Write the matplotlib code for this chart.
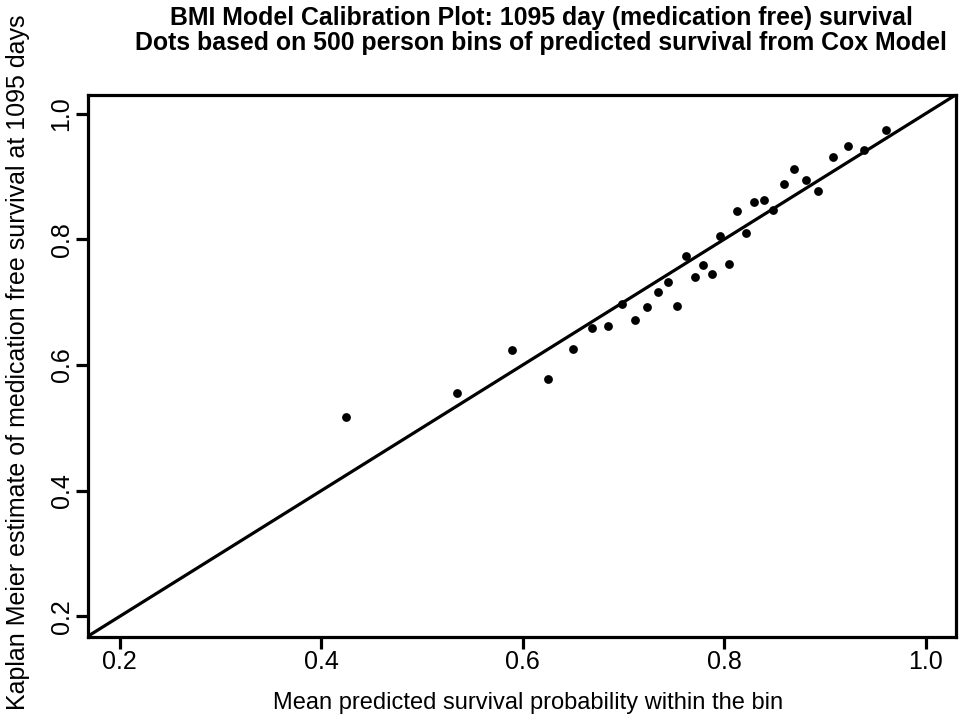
import matplotlib
matplotlib.use("Agg")
import matplotlib.pyplot as plt

plt.rcParams['font.family'] = ['Liberation Sans', 'DejaVu Sans']

pred = [0.4250, 0.5346, 0.5889, 0.6247, 0.6502, 0.6683, 0.6846, 0.6984,
        0.7116, 0.7236, 0.7339, 0.7438, 0.7533, 0.7622, 0.7707, 0.7793,
        0.7874, 0.7959, 0.8044, 0.8129, 0.8217, 0.8299, 0.8391, 0.8483,
        0.8590, 0.8696, 0.8810, 0.8930, 0.9076, 0.9228, 0.9388, 0.9604]
km = [0.5176, 0.5549, 0.6239, 0.5772, 0.6260, 0.6590, 0.6622, 0.6967,
      0.6712, 0.6920, 0.7163, 0.7327, 0.6945, 0.7732, 0.7402, 0.7594,
      0.7450, 0.8056, 0.7614, 0.8443, 0.8099, 0.8593, 0.8625, 0.8459,
      0.8880, 0.9124, 0.8948, 0.8768, 0.9310, 0.9479, 0.9422, 0.9734]
ticks = [0.2, 0.4, 0.6, 0.8, 1.0]
tick_labels = ["0.2", "0.4", "0.6", "0.8", "1.0"]

title_lines = ["BMI Model Calibration Plot: 1095 day (medication free) survival",
               "Dots based on 500 person bins of predicted survival from Cox Model"]
xlabel = "Mean predicted survival probability within the bin"
ylabel = "Kaplan Meier estimate of medication free survival at 1095 days"

W, H = 959, 725
fig = plt.figure(figsize=(W / 100, H / 100), dpi=100)
ax = fig.add_axes([87.5 / W, 1 - 636.5 / H, (955.5 - 87.5) / W, (636.5 - 95) / H])

lo, hi = 0.168, 1.0295
ax.set_xlim(lo, hi)
ax.set_ylim(lo, hi)
ax.plot([lo, hi], [lo, hi], color='black', lw=2.3, solid_capstyle='butt')
ax.scatter(pred, km, s=40, color='black', zorder=3, linewidths=0)

for s in ax.spines.values():
    s.set_linewidth(2.3)
ax.set_xticks(ticks)
ax.set_xticklabels(tick_labels)
ax.set_yticks(ticks)
ax.set_yticklabels(tick_labels, rotation=90, va='center')
ax.tick_params(direction='out', length=8.5, width=2.3, labelsize=18)
ax.tick_params(axis='x', pad=1.5)
ax.tick_params(axis='y', pad=1.5)

fig.text(528 / W, 1 - 703 / H, xlabel, ha='center', va='center', fontsize=17)
fig.text(18 / W, 1 - 362.5 / H, ylabel, ha='center', va='center',
         rotation=90, fontsize=18)

fig.text(541 / W, 1 - 18 / H, title_lines[0], ha='center', va='center',
         fontsize=17.9, fontweight='bold')
fig.text(541 / W, 1 - 43 / H, title_lines[1], ha='center', va='center',
         fontsize=17.9, fontweight='bold')

fig.savefig("out.png", dpi=100)
